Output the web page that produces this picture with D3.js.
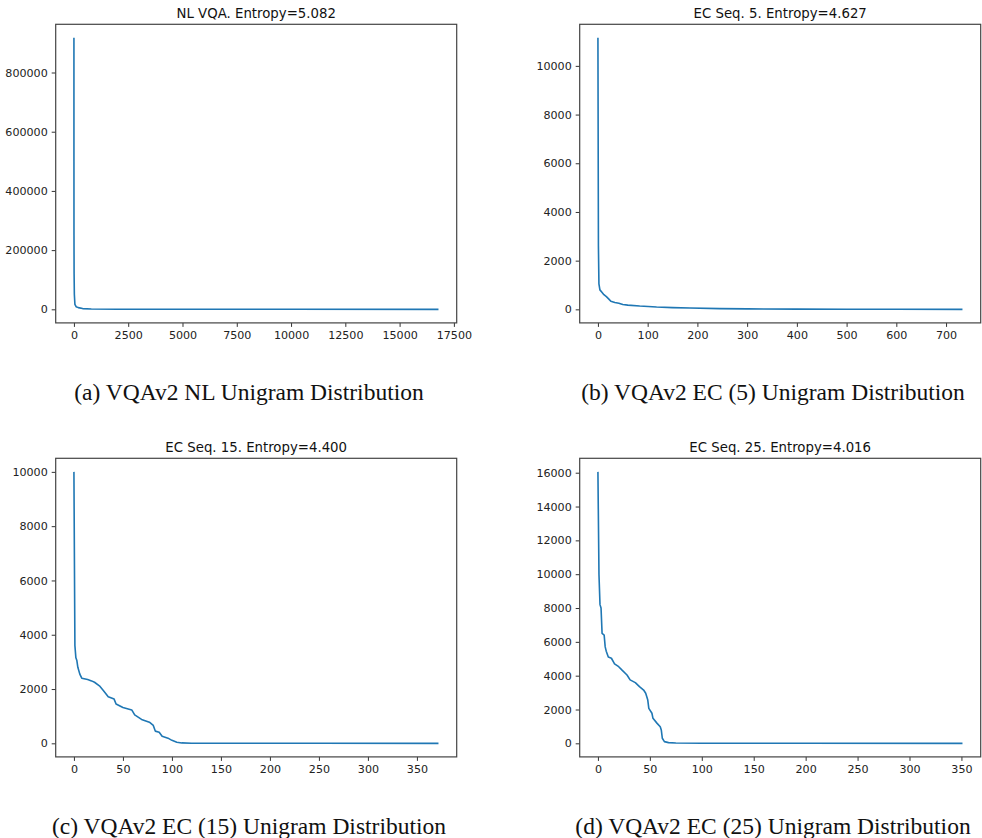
<!DOCTYPE html>
<html>
<head>
<meta charset="utf-8">
<script src="https://cdn.jsdelivr.net/npm/d3@7"></script>
<style>
  body { margin: 0; background: #fff; }
  svg { display: block; }
  .tick text { font-family: "DejaVu Sans", sans-serif; font-size: 11.1px; fill: #222; }
  .tick line { stroke: #333; }
  .title { font-family: "DejaVu Sans", sans-serif; font-size: 13.3px; fill: #111; }
  .caption { font-family: "Liberation Serif", "Times New Roman", serif; font-size: 23.5px; fill: #111; }
</style>
</head>
<body>
<svg id="chart"></svg>
<script>
// [rank, count] points
const nlVqa = [[0,917000],[1,500000],[3,250000],[8,120000],[20,50000],[45,17000],[100,9000],[200,5700],
  [400,2500],[800,1000],[2000,300],[5000,60],[10000,10],[16790,1]];
const ecSeq5 = [[0,11150],[1,2600],[2,1050],[4,800],[8,700],[12,600],[17,520],[22,420],[26,330],[34,280],
  [42,250],[50,200],[60,175],[84,135],[118,94],[150,70],[185,53],[245,30],[300,20],[400,10],[500,5],[600,3],[733,1]];
const ecSeq15 = [[0,10000],[1,3600],[2,3150],[3,3050],[4,2800],[6,2550],[8,2400],[14,2350],[18,2300],[21,2250],
  [26,2120],[30,1950],[35,1720],[41,1630],[43,1450],[50,1320],[59,1230],[62,1050],[69,880],[77,780],[81,660],
  [83,450],[87,410],[90,260],[96,190],[100,110],[105,40],[110,15],[120,5],[150,2],[250,1],[372,0]];
const ecSeq25 = [[0,16050],[1,10000],[2,8200],[3,8000],[4,6500],[6,6400],[7,5700],[8,5450],[10,5100],[13,5030],
  [16,4700],[20,4530],[23,4340],[28,4040],[31,3750],[36,3590],[40,3350],[44,3150],[46,2960],[48,2560],[49,2070],
  [52,1780],[53,1480],[57,1180],[60,980],[61,790],[62,300],[64,100],[68,40],[75,15],[100,5],[200,2],[351,0]];

const titles = ["NL VQA. Entropy=5.082", "EC Seq. 5. Entropy=4.627", "EC Seq. 15. Entropy=4.400", "EC Seq. 25. Entropy=4.016"];
const captions = ["(a) VQAv2 NL Unigram Distribution", "(b) VQAv2 EC (5) Unigram Distribution",
  "(c) VQAv2 EC (15) Unigram Distribution", "(d) VQAv2 EC (25) Unigram Distribution"];
const xTicks = [d3.range(0, 17501, 2500), d3.range(0, 701, 100), d3.range(0, 351, 50), d3.range(0, 351, 50)];
const yTicks = [d3.range(0, 800001, 200000), d3.range(0, 10001, 2000), d3.range(0, 10001, 2000), d3.range(0, 16001, 2000)];

const width = 982, height = 838;
const svg = d3.select("#chart").attr("width", width).attr("height", height);

// frame boxes of the four axes
const panels = [
  { data: nlVqa,   left: 55.7,  top: 24.3,  capX: 249, capY: 400 },
  { data: ecSeq5,  left: 579.7, top: 24.3,  capX: 773, capY: 400 },
  { data: ecSeq15, left: 55.7,  top: 458.3, capX: 249, capY: 834 },
  { data: ecSeq25, left: 579.7, top: 458.3, capX: 773, capY: 834 }
];
const pw = 401, ph = 298.6;

panels.forEach((p, i) => {
  const g = svg.append("g").attr("transform", `translate(${p.left},${p.top})`);

  // matplotlib style 5% margins
  const [x0, x1] = d3.extent(p.data, d => d[0]);
  const [y0, y1] = d3.extent(p.data, d => d[1]);
  const mx = (x1 - x0) * 0.05, my = (y1 - y0) * 0.05;
  const x = d3.scaleLinear().domain([x0 - mx, x1 + mx]).range([0, pw]);
  const y = d3.scaleLinear().domain([y0 - my, y1 + my]).range([ph, 0]);

  g.append("g").attr("transform", `translate(0,${ph})`)
    .call(d3.axisBottom(x).tickValues(xTicks[i]).tickFormat(d3.format("d")).tickSize(4).tickPadding(4).tickSizeOuter(0))
    .call(a => a.select(".domain").remove());
  g.append("g")
    .call(d3.axisLeft(y).tickValues(yTicks[i]).tickFormat(d3.format("d")).tickSize(4).tickPadding(4).tickSizeOuter(0))
    .call(a => a.select(".domain").remove());

  g.append("path")
    .datum(p.data)
    .attr("fill", "none")
    .attr("stroke", "#1f77b4")
    .attr("stroke-width", 1.6)
    .attr("stroke-linejoin", "round")
    .attr("d", d3.line().x(d => x(d[0])).y(d => y(d[1])));

  g.append("rect")
    .attr("width", pw).attr("height", ph)
    .attr("fill", "none").attr("stroke", "#444").attr("stroke-width", 1.2);

  g.append("text").attr("class", "title")
    .attr("x", pw / 2).attr("y", -6)
    .attr("text-anchor", "middle")
    .text(titles[i]);

  svg.append("text").attr("class", "caption")
    .attr("x", p.capX).attr("y", p.capY)
    .attr("text-anchor", "middle")
    .text(captions[i]);
});
</script>
</body>
</html>
